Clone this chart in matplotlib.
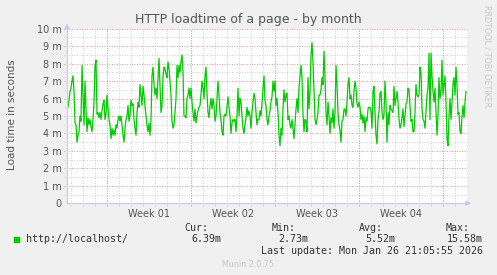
import numpy as np
import matplotlib
matplotlib.use('Agg')
import matplotlib.pyplot as plt

# munin month graph, one sample every 2 hours (values in ms)
loadtime_ms = [
    6.0,5.5,5.9,6.4,6.6,7.0,7.3,6.4,4.6,4.5, 3.5,3.9,4.1,5.0,4.7,7.9,6.2,4.5,7.0,5.4,
    4.1,4.9,4.5,4.8,4.4,4.1,4.8,5.8,7.9,8.2, 5.1,5.2,4.9,5.2,4.8,5.3,5.7,5.9,4.8,5.1,
    6.2,5.5,4.8,4.5,3.7,4.3,3.9,4.2,3.9,4.5, 4.3,4.8,5.0,4.7,5.0,4.5,3.9,3.5,4.3,4.8,
    5.0,5.6,4.7,5.0,5.9,5.6,5.7,4.8,4.3,3.9, 5.2,5.8,5.5,6.8,6.2,5.6,6.7,6.2,5.6,
    5.0,4.5,4.1,4.6,3.9,4.8,7.3,7.8,6.8,6.2, 6.6,6.0,7.2,8.3,6.8,5.2,5.6,7.2,7.8,7.7,
    7.4,7.2,8.1,7.7,7.0,6.2,4.7,4.3,4.5,5.2, 6.0,7.9,7.2,7.9,7.5,8.1,8.5,7.5,5.0,5.0,
    4.9,6.0,6.2,6.6,6.0,6.6,5.8,5.2,4.7,5.4, 4.6,5.0,5.3,5.5,5.6,6.2,7.0,6.6,6.0,7.3,
    7.8,6.3,5.2,4.9,5.6,6.0,5.4,6.0,5.6,4.7, 5.0,6.0,7.0,6.2,5.2,4.8,4.1,3.9,5.0,5.1,
    5.0,5.5,6.1,5.5,5.0,4.0,4.6,4.8,4.7,4.8, 4.1,5.0,6.6,5.0,6.0,5.8,5.0,4.3,4.0,4.5,
    4.9,5.5,5.0,5.3,5.0,4.3,5.2,5.8,6.3,6.0, 5.2,4.5,4.8,4.8,5.3,5.0,5.7,6.6,7.3,5.9,
    5.6,4.8,4.5,5.0,5.3,5.8,6.1,7.0,6.4,7.0, 5.6,6.0,5.2,3.9,3.3,4.3,3.9,5.4,6.5,5.8,
    6.2,6.3,4.8,5.0,4.5,4.3,4.8,4.3,3.7,4.6, 5.4,6.0,5.2,6.6,7.3,7.9,7.2,5.1,4.1,4.8,
    4.7,4.1,7.2,5.4,6.4,8.5,9.2,8.1,6.4,4.8, 4.5,4.8,5.2,6.2,6.2,6.5,7.2,6.8,8.7,7.3,
    5.2,4.5,5.8,5.0,4.0,4.9,4.6,5.4,4.3,5.2, 7.9,6.8,5.2,4.5,4.2,3.5,4.7,4.8,5.4,5.4,
    5.0,5.8,6.8,7.2,6.0,6.2,5.6,5.5,6.4,7.0, 6.6,5.7,5.5,5.8,5.5,4.8,5.1,4.6,5.0,4.1,
    4.9,4.7,5.4,5.5,5.5,5.3,4.3,6.4,6.7,5.2, 3.9,3.4,4.8,5.2,6.3,6.4,5.2,4.8,5.1,7.0,
    5.8,3.5,5.2,4.5,5.6,5.4,5.3,5.2,6.7,5.6, 6.0,6.4,5.8,4.8,4.3,4.5,4.9,5.4,4.4,5.0,
    5.7,5.8,6.6,6.5,5.6,4.7,4.8,4.1,4.1,5.2, 6.8,6.2,6.1,6.2,7.8,7.5,5.4,4.8,4.7,4.3,
    5.2,6.2,6.6,8.6,4.8,8.6,7.3,6.4,5.8,6.6, 5.3,3.9,5.0,7.2,6.0,6.4,8.2,6.2,6.8,7.3,
    5.8,3.7,3.3,5.0,6.0,4.8,5.8,6.8,7.2,6.2, 7.8,6.8,5.1,5.2,4.1,4.0,5.0,5.6,4.9,5.8,
    6.4,
]
week_labels = ['Week 01', 'Week 02', 'Week 03', 'Week 04']
ytick_labels = ['0', '1 m', '2 m', '3 m', '4 m', '5 m', '6 m', '7 m', '8 m', '9 m', '10 m']
series_name = 'http://localhost/'
stat_names = ['Cur:', 'Min:', 'Avg:', 'Max:']
stat_values = ['6.39m', '2.73m', '5.52m', '15.58m']
last_update = 'Last update: Mon Jan 26 21:05:55 2026'

hours = np.arange(len(loadtime_ms)) * 2.0
t_end = 800.0          # graph spans ~33 days
first_week = 80.0      # first week boundary (hours)

W, H = 497, 275
AX_W, AX_H = 400, 174.6
fig = plt.figure(figsize=(W / 100, H / 100), dpi=100)
fig.patch.set_facecolor('#F0F0F0')
ax = fig.add_axes([67 / W, (H - 203.3) / H, AX_W / W, AX_H / H])
ax.set_facecolor('white')

ax.set_xlim(0, t_end)
ax.set_ylim(0, 10)

GREY = '#D2D2D2'
RED = '#E4A0A0'
dots = (1, 1.4)

# grid: minor grey every day / half unit, major red every week / unit
# (lines poke out a couple px past the axes like rrdtool's ticks)
minor_x = np.arange(8, t_end, 24)
major_x = np.arange(first_week, t_end, 168)
xt = ax.get_xaxis_transform()
yt = ax.get_yaxis_transform()
for x in minor_x:
    ax.plot([x, x], [-3 / AX_H, 1], transform=xt, color=GREY, lw=0.75,
            dashes=dots, zorder=1, clip_on=False)
for y in np.arange(0.5, 10, 1.0):
    ax.plot([-3 / AX_W, 1], [y, y], transform=yt, color=GREY, lw=0.75,
            dashes=dots, zorder=1, clip_on=False)
for x in major_x:
    ax.plot([x, x], [-3 / AX_H, 1], transform=xt, color=RED, lw=0.75,
            dashes=dots, zorder=2, clip_on=False)
for y in np.arange(1, 11, 1.0):
    ax.plot([-3 / AX_W, 1], [y, y], transform=yt, color=RED, lw=0.75,
            dashes=dots, zorder=2, clip_on=False)

ax.plot(hours, loadtime_ms, color='#00CC00', lw=0.9, zorder=3)

for s in ['top', 'right']:
    ax.spines[s].set_visible(False)
for s in ['left', 'bottom']:
    ax.spines[s].set_color('#C8C8F0')
    ax.spines[s].set_linewidth(0.9)
    ax.spines[s].set_zorder(4)

ax.set_yticks(np.arange(0, 11))
ax.set_yticklabels(ytick_labels)
ax.set_xticks(major_x[:len(week_labels)] + 84)
ax.set_xticklabels(week_labels)
ax.tick_params(axis='both', length=0, labelsize=7, labelcolor='#555555', pad=4)
ax.tick_params(axis='x', pad=4)

# axis arrows
ax.annotate('', xy=(0, 1 + 8 / AX_H), xytext=(0, 0.99), xycoords='axes fraction',
            arrowprops=dict(arrowstyle='-|>', color='#C8C8F0', lw=0.9, mutation_scale=7),
            annotation_clip=False)
ax.annotate('', xy=(1 + 7 / AX_W, 0), xytext=(0.99, 0), xycoords='axes fraction',
            arrowprops=dict(arrowstyle='-|>', color='#C8C8F0', lw=0.9, mutation_scale=7),
            annotation_clip=False)

fig.text(0.5, 1 - 19 / H, 'HTTP loadtime of a page - by month',
         ha='center', va='center', fontsize=9, color='#555555')
fig.text(12 / W, 1 - 115 / H, 'Load time in seconds', rotation=90,
         ha='center', va='center', fontsize=7.5, color='#555555')
fig.text(487 / W, 1 - 5 / H, 'RRDTOOL / TOBI OETIKER', rotation=270,
         ha='center', va='top', fontsize=5.8, color='#C8C8C8')

# legend block
mono = 'DejaVu Sans Mono'
fig.patches.append(plt.Rectangle((14 / W, 1 - 242 / H), 5 / W, 5 / H,
                                 transform=fig.transFigure, color='#00CC00'))
fig.text(26 / W, 1 - 239.5 / H, series_name, family=mono, fontsize=7.2,
         color='#333333', ha='left', va='center')
for k, (nm, val) in enumerate(zip(stat_names, stat_values)):
    fig.text((208 + 87.3 * k) / W, 1 - 228 / H, nm, family=mono, fontsize=7.2,
             color='#333333', ha='right', va='center')
    fig.text((221 + 87.3 * k) / W, 1 - 239.5 / H, val, family=mono, fontsize=7.2,
             color='#333333', ha='right', va='center')
fig.text(483 / W, 1 - 251.5 / H, last_update, family=mono, fontsize=7.2,
         color='#333333', ha='right', va='center')
fig.text(248 / W, 1 - 264.5 / H, 'Munin 2.0.75', fontsize=5.8,
         color='#C8C8C8', ha='center', va='center')

fig.savefig('out.png', dpi=100, facecolor=fig.get_facecolor())
